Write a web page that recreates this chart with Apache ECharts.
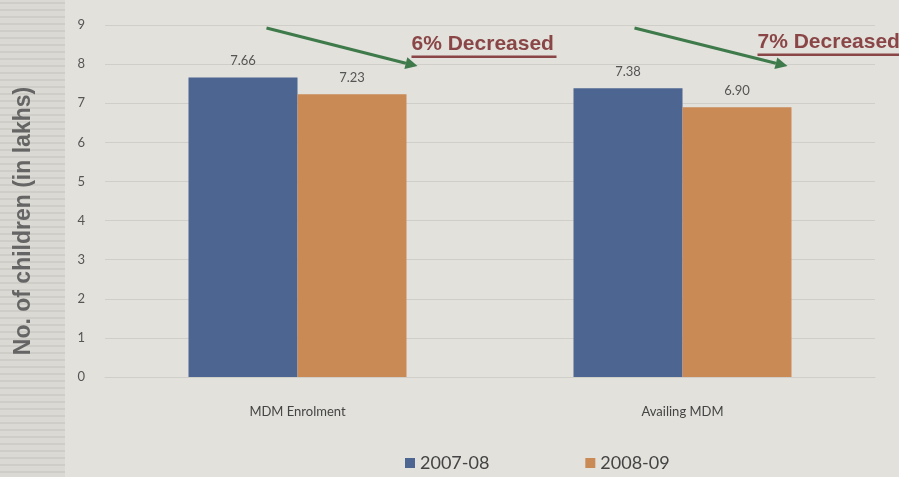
<!DOCTYPE html>
<html>
<head>
<meta charset="utf-8">
<script src="https://cdn.jsdelivr.net/npm/echarts@6/dist/echarts.min.js"></script>
<style>html,body{margin:0;padding:0;background:#e2e1dc;}#c{width:899px;height:477px;}</style>
</head>
<body>
<div id="c"></div>
<script>
const categories = ['MDM Enrolment', 'Availing MDM'];
const series2007 = [7.66, 7.38];
const series2008 = [7.23, 6.90];
const seriesNames = ['2007-08', '2008-09'];
const annotations = ['6% Decreased', '7% Decreased'];

const chart = echarts.init(document.getElementById('c'));
const labelStyle = { show: true, position: 'top', distance: 10, color: '#555', fontFamily: 'Lato', fontSize: 13,
  formatter: p => p.value.toFixed(2) };
chart.setOption({
  backgroundColor: '#e2e1dc',
  animation: false,
  grid: { left: 105, right: 24, top: 25, bottom: 100 },
  legend: {
    bottom: 0, left: 400, itemGap: 96, itemWidth: 10, itemHeight: 10, icon: 'rect',
    textStyle: { color: '#444', fontSize: 18, fontFamily: 'Lato' },
    data: seriesNames
  },
  xAxis: {
    type: 'category', data: categories,
    axisLine: { show: true, lineStyle: { color: '#cfcec9' } }, axisTick: { show: false },
    axisLabel: { color: '#444', fontSize: 13, fontFamily: 'Lato', margin: 28 }
  },
  yAxis: {
    type: 'value', min: 0, max: 9, interval: 1,
    name: 'No. of children (in lakhs)', nameLocation: 'middle', nameGap: 70,
    nameTextStyle: { color: '#656565', fontSize: 23, fontWeight: 'bold', fontFamily: 'Liberation Sans', padding: [0, 40, 0, 0] },
    axisLabel: { color: '#555', fontSize: 13, fontFamily: 'Lato', margin: 20 },
    axisLine: { show: false }, axisTick: { show: false },
    splitLine: { lineStyle: { color: '#cfcec9', width: 1 } }
  },
  series: [
    { name: seriesNames[0], type: 'bar', data: series2007, barWidth: 109, barGap: '0%',
      itemStyle: { color: '#4c6591' }, label: labelStyle },
    { name: seriesNames[1], type: 'bar', data: series2008, barWidth: 109,
      itemStyle: { color: '#c98a56' }, label: labelStyle }
  ]
});

function drawAnnotations() {
  const y9 = chart.convertToPixel({ yAxisIndex: 0 }, 9);
  const y8 = chart.convertToPixel({ yAxisIndex: 0 }, 8);
  const cx = categories.map((c, i) => chart.convertToPixel({ xAxisIndex: 0 }, i));
  const green = '#3e7a4a', red = '#8a4646';
  const els = [];
  // left scan strip
  els.push({ type: 'rect', shape: { x: 0, y: 0, width: 65, height: 477 }, style: { fill: '#dad9d3' }, z: -1 });
  for (let yy = 3; yy < 477; yy += 7) {
    els.push({ type: 'line', shape: { x1: 0, y1: yy, x2: 65, y2: yy }, style: { stroke: '#cfcdc7', lineWidth: 2 }, z: -1 });
  }
  const arrows = [
    { sx: cx[0] - 31, ex: cx[0] + 120, tx: cx[0] + 114, ty: y9 + 30 },
    { sx: cx[1] - 48, ex: cx[1] + 105, tx: cx[1] + 75, ty: y9 + 28 }
  ];
  arrows.forEach((a, i) => {
    const sy = y9 + 3, ey = y8 + 2;
    const ang = Math.atan2(ey - sy, a.ex - a.sx);
    const hl = 12, hw = 6;
    const bx = a.ex - hl * Math.cos(ang), by = ey - hl * Math.sin(ang);
    const px = -Math.sin(ang), py = Math.cos(ang);
    els.push({ type: 'line', shape: { x1: a.sx, y1: sy, x2: bx, y2: by }, style: { stroke: green, lineWidth: 3 }, z: 10 });
    els.push({ type: 'polygon', shape: { points: [[a.ex, ey], [bx + px * hw, by + py * hw], [bx - px * hw, by - py * hw]] },
      style: { fill: green }, z: 10 });
    els.push({ type: 'text', x: a.tx, y: a.ty, style: { text: annotations[i], fill: red, font: 'bold 21px "Liberation Sans"', textVerticalAlign: 'bottom' }, z: 11 });
    els.push({ type: 'rect', shape: { x: a.tx, y: a.ty + 0.5, width: 145, height: 2.5 }, style: { fill: red }, z: 11 });
  });
  chart.setOption({ graphic: { elements: els } });
}
drawAnnotations();
</script>
</body>
</html>
